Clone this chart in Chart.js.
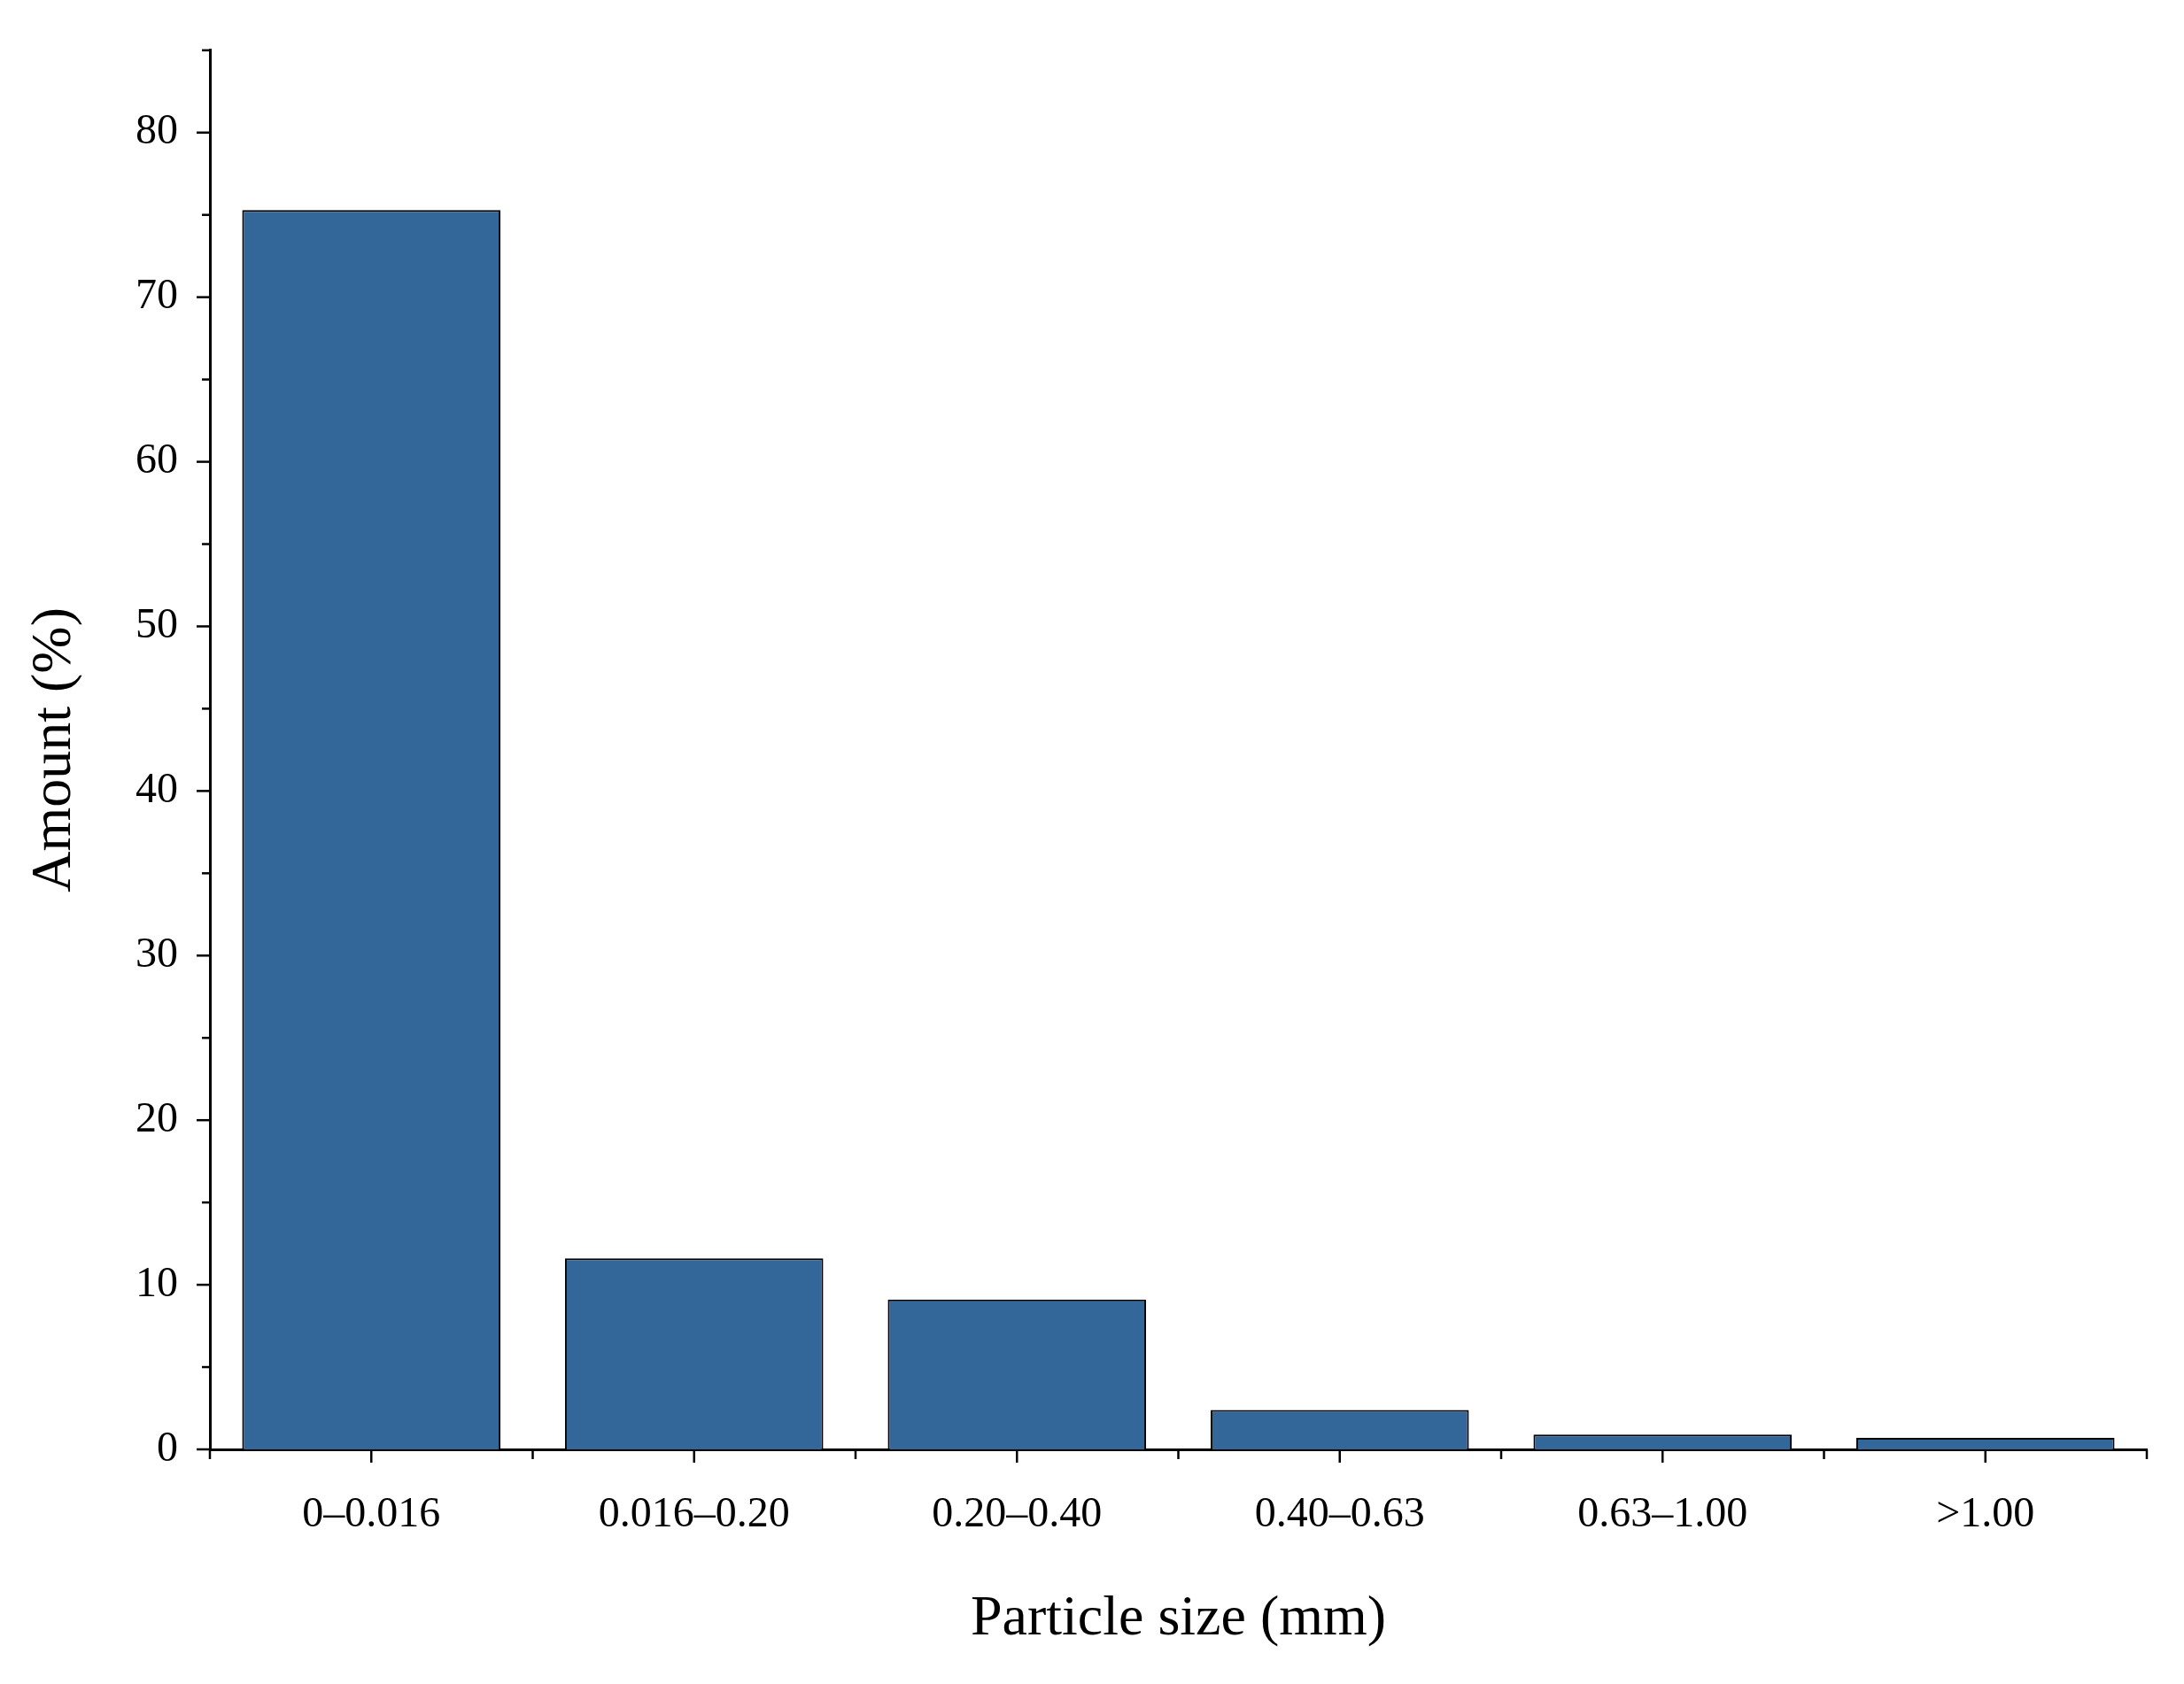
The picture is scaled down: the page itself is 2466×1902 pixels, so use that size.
<!DOCTYPE html>
<html><head><meta charset="utf-8">
<script src="https://cdn.jsdelivr.net/npm/chart.js@4"></script>
<style>html,body{margin:0;padding:0;background:#fff}</style>
</head><body>
<canvas id="c" width="2466" height="1902" style="width:2466px;height:1902px"></canvas>
<script>
const categories = ["0–0.016","0.016–0.20","0.20–0.40","0.40–0.63","0.63–1.00",">1.00"];
const amounts = [75.3, 11.6, 9.1, 2.4, 0.9, 0.7];
const yMax = 85;

const tickPlugin = {
  id: 'ticks',
  afterDraw(chart) {
    const ctx = chart.ctx, x = chart.scales.x, y = chart.scales.y;
    ctx.save(); ctx.strokeStyle = '#000'; ctx.lineWidth = 2.5;
    for (let v = 0; v <= yMax; v += 5) {
      const py = y.getPixelForValue(v), len = v % 10 === 0 ? 15 : 9;
      ctx.beginPath(); ctx.moveTo(y.right - len, py); ctx.lineTo(y.right, py); ctx.stroke();
    }
    const n = categories.length;
    for (let i = -0.5; i <= n - 0.5 + 1e-9; i += 0.5) {
      const px = x.getPixelForValue(i), len = Number.isInteger(i) ? 15 : 11;
      ctx.beginPath(); ctx.moveTo(px, x.top); ctx.lineTo(px, x.top + len); ctx.stroke();
    }
    ctx.restore();
  }
};

new Chart(document.getElementById('c'), {
  type: 'bar',
  data: { labels: categories, datasets: [{ data: amounts, backgroundColor: '#336699', borderColor: '#000', borderWidth: 2, barPercentage: 0.8, categoryPercentage: 1 }] },
  options: {
    responsive: false, animation: false, devicePixelRatio: 1,
    layout: { padding: { top: 47, right: 42, left: 20, bottom: 30 } },
    plugins: { legend: { display: false }, tooltip: { enabled: false } },
    scales: {
      x: {
        grid: { display: false }, border: { color: '#000', width: 3 },
        ticks: { color: '#000', padding: 38, font: { family: 'Liberation Serif', size: 48 } },
        title: { display: true, text: 'Particle size (mm)', color: '#000', padding: { top: 30 }, font: { family: 'Liberation Serif', size: 64 } },
        afterFit(s) { s.height = 1902 - 1637 - 30; }
      },
      y: {
        min: 0, max: yMax,
        grid: { display: false }, border: { color: '#000', width: 3 },
        ticks: { color: '#000', stepSize: 5, padding: 28, font: { family: 'Liberation Serif', size: 48 },
          callback: v => v % 10 === 0 ? v : '' },
        title: { display: true, text: 'Amount (%)', color: '#000', padding: { bottom: 20 }, font: { family: 'Liberation Serif', size: 64 } },
        afterFit(s) { s.width = 237 - 20; }
      }
    }
  },
  plugins: [tickPlugin]
});
</script>
</body></html>
